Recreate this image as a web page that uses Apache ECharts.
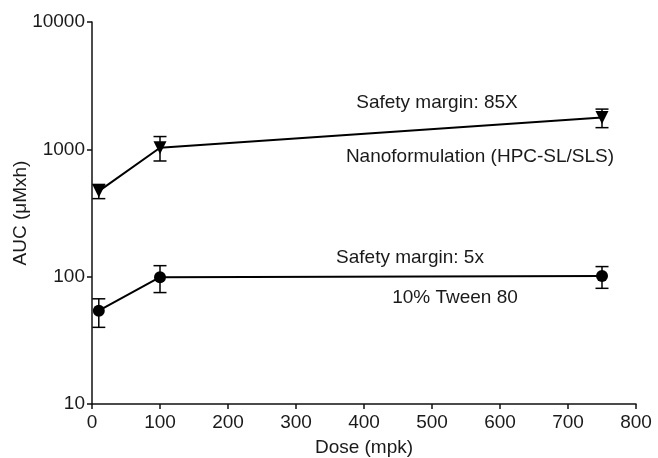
<!DOCTYPE html>
<html>
<head>
<meta charset="utf-8">
<script src="https://cdn.jsdelivr.net/npm/echarts@6/dist/echarts.min.js"></script>
<style>
  html, body { margin: 0; padding: 0; background: #fff; }
  #chart { width: 658px; height: 458px; }
</style>
</head>
<body>
<div id="chart"></div>
<script>
// dose (mpk)
const doses = [10, 100, 750]
// nanoformulation AUC, mean / low / high
const nanoMean = [470, 1030, 1780]
const nanoLow = [410, 810, 1480]
const nanoHigh = [530, 1260, 2070]
// 10% Tween 80 AUC, mean / low / high
const tweenMean = [54, 99, 101]
const tweenLow = [40, 75, 81]
const tweenHigh = [67, 122, 120]

const font = 'Liberation Sans, Arial, sans-serif'
const fs = 19

const chart = echarts.init(document.getElementById('chart'))

const pairs = (ys) => doses.map((x, i) => [x, ys[i]])
const errData = (lo, hi) => doses.map((x, i) => [x, lo[i], hi[i]])

// 误差棒
const errorBar = (params, api) => {
  const x = api.value(0)
  const lo = api.coord([x, api.value(1)])
  const hi = api.coord([x, api.value(2)])
  const w = 6.5
  const style = { stroke: '#000', lineWidth: 1.5 }
  return {
    type: 'group',
    children: [
      { type: 'line', shape: { x1: lo[0], y1: lo[1], x2: hi[0], y2: hi[1] }, style },
      { type: 'line', shape: { x1: lo[0] - w, y1: lo[1], x2: lo[0] + w, y2: lo[1] }, style },
      { type: 'line', shape: { x1: hi[0] - w, y1: hi[1], x2: hi[0] + w, y2: hi[1] }, style }
    ]
  }
}

const textStyle = { fontFamily: font, fontSize: fs, color: '#1a1a1a' }

const option = {
  animation: false,
  grid: { left: 92, right: 22, top: 22, bottom: 54, containLabel: false, outerBoundsMode: 'none' },
  xAxis: {
    type: 'value',
    min: 0,
    max: 800,
    interval: 100,
    name: 'Dose (mpk)',
    nameLocation: 'middle',
    nameGap: 34,
    nameMoveOverlap: false,
    nameTextStyle: textStyle,
    axisLine: { lineStyle: { color: '#111', width: 1.5 } },
    axisTick: { length: 5, lineStyle: { color: '#111', width: 1.5 } },
    axisLabel: Object.assign({ margin: 9 }, textStyle),
    splitLine: { show: false }
  },
  yAxis: {
    type: 'log',
    logBase: 10,
    min: 10,
    max: 10000,
    name: 'AUC (μMxh)',
    nameLocation: 'middle',
    nameGap: 62,
    nameMoveOverlap: false,
    nameTextStyle: textStyle,
    axisLine: { show: true, lineStyle: { color: '#111', width: 1.5 } },
    axisTick: { show: true, length: 5, lineStyle: { color: '#111', width: 1.5 } },
    axisLabel: Object.assign({ margin: 7, formatter: (v) => String(Math.round(v)) }, textStyle),
    minorTick: { show: false },
    splitLine: { show: false }
  },
  series: [
    {
      name: 'Nanoformulation (HPC-SL/SLS)',
      type: 'line',
      data: pairs(nanoMean),
      symbol: 'triangle',
      symbolRotate: 180,
      symbolSize: 13,
      itemStyle: { color: '#000' },
      lineStyle: { color: '#000', width: 2 },
      z: 3
    },
    {
      type: 'custom',
      data: errData(nanoLow, nanoHigh),
      renderItem: errorBar,
      z: 2
    },
    {
      name: '10% Tween 80',
      type: 'line',
      data: pairs(tweenMean),
      symbol: 'circle',
      symbolSize: 12,
      itemStyle: { color: '#000' },
      lineStyle: { color: '#000', width: 2 },
      z: 3
    },
    {
      type: 'custom',
      data: errData(tweenLow, tweenHigh),
      renderItem: errorBar,
      z: 2
    }
  ],
  graphic: [
    { type: 'text', x: 437, y: 103, style: { text: 'Safety margin: 85X', font: fs + 'px ' + font, fill: '#1a1a1a', textAlign: 'center', textVerticalAlign: 'middle' } },
    { type: 'text', x: 480, y: 157, style: { text: 'Nanoformulation (HPC-SL/SLS)', font: fs + 'px ' + font, fill: '#1a1a1a', textAlign: 'center', textVerticalAlign: 'middle' } },
    { type: 'text', x: 410, y: 258, style: { text: 'Safety margin: 5x', font: fs + 'px ' + font, fill: '#1a1a1a', textAlign: 'center', textVerticalAlign: 'middle' } },
    { type: 'text', x: 455, y: 298, style: { text: '10% Tween 80', font: fs + 'px ' + font, fill: '#1a1a1a', textAlign: 'center', textVerticalAlign: 'middle' } }
  ]
}

chart.setOption(option)
</script>
</body>
</html>
